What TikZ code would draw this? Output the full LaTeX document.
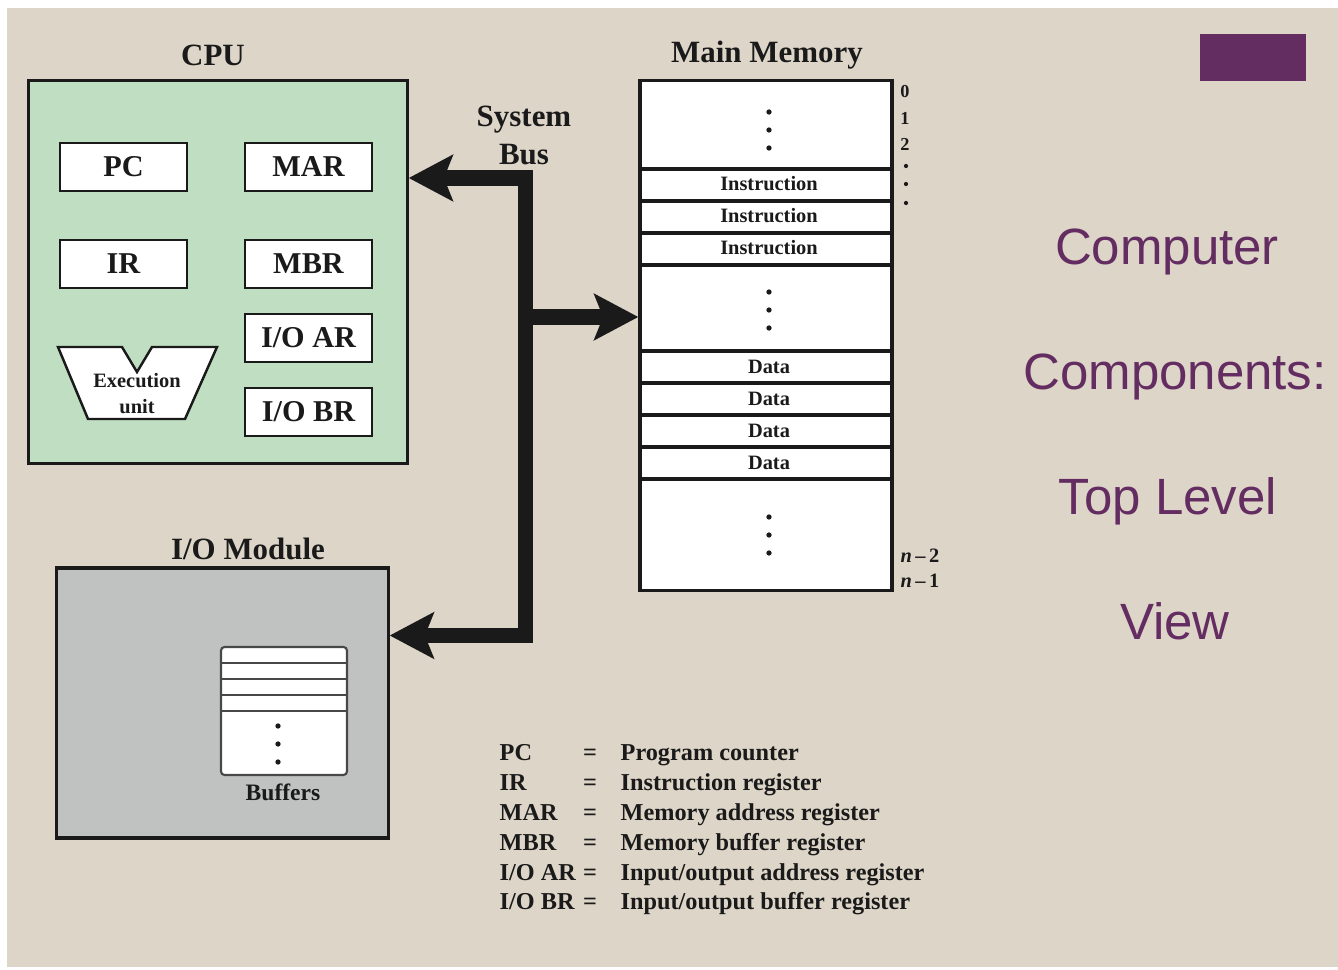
\documentclass[tikz,border=0pt]{standalone}
\usepackage{fontspec}
\setmainfont{Liberation Serif}
\newfontfamily\titlefont{Liberation Sans}
\usetikzlibrary{%
        arrows.meta,
        positioning
    }

\definecolor{paper}{HTML}{DDD5C8}
\definecolor{cpugreen}{HTML}{BFDEC2}
\definecolor{iogray}{HTML}{C0C1C1}
\definecolor{slidepurple}{HTML}{642D62}
\definecolor{ink}{HTML}{1A1A1A}

\tikzset{%
    heading/.style={font=\bfseries\fontsize{8.8}{10.8}\selectfont, text=ink,
        align=center, inner sep=0pt},
    register/.style={draw=ink, line width=0.6pt, fill=white,
        minimum width=1.27cm, minimum height=0.48cm, inner sep=0pt,
        font=\bfseries\fontsize{8.6}{10}\selectfont, text=ink},
    cell/.style={font=\bfseries\fontsize{5.8}{7}\selectfont, text=ink,
        inner sep=0pt, align=center},
    keytext/.style={font=\bfseries\fontsize{6.9}{8}\selectfont, text=ink,
        inner sep=0pt, anchor=base west},
    addr/.style={font=\bfseries\fontsize{5.2}{6}\selectfont, text=ink,
        inner sep=0pt},
    memline/.style={draw=ink, line width=0.9pt},
    bus/.style={draw=ink, line width=4.3pt, line join=miter,
        >={Stealth[length=12.5pt, width=13pt, inset=2.5pt]}},
    slidetitle/.style={font=\titlefont\fontsize{14.5}{17}\selectfont,
        text=slidepurple, anchor=base, inner sep=0pt}
}

\begin{document}
\begin{tikzpicture}[x=0.01cm, y=-0.01cm]

    \useasboundingbox (0, 0) rectangle (1338, 970);
    \fill[white] (0, 0) rectangle (1338, 970);
    \fill[paper] (7, 8) rectangle (1338, 967);

    % CPU
    \node[heading] (cpu-label) at (213, 55) {CPU};
    \node[draw=ink, line width=0.9pt, fill=cpugreen,
          minimum width=3.78cm, minimum height=3.82cm] (cpu) at (218, 272) {};

    \node[register] (pc)   at (123.5, 167) {PC};
    \node[register] (mar)  at (308.5, 167) {MAR};
    \node[register] (ir)   at (123.5, 264) {IR};
    \node[register] (mbr)  at (308.5, 264) {MBR};
    \node[register] (ioar) at (308.5, 338) {I/O AR};
    \node[register] (iobr) at (308.5, 412) {I/O BR};

    \draw[draw=ink, line width=0.7pt, fill=white]
        (58, 347) -- (122, 347) -- (137, 372) -- (152, 347) --
        (217, 347) -- (185, 419) -- (88, 419) -- cycle;
    \node[cell, font=\bfseries\fontsize{5.8}{7.4}\selectfont] (exec) at (137, 394)
        {Execution\\unit};

    % I/O module
    \node[heading] (io-label) at (248, 549) {I/O Module};
    \node[draw=ink, line width=0.9pt, fill=iogray,
          minimum width=3.31cm, minimum height=2.70cm] (io) at (222.5, 703) {};

    \draw[draw=ink!80, line width=0.6pt, fill=white, rounded corners=1pt]
        (221, 647) rectangle (347, 775);
    \foreach \y in {663, 679, 695, 711}{%
        \draw[draw=ink!80, line width=0.6pt] (221, \y) -- (347, \y);
    };
    \foreach \y in {726, 744, 762}{%
        \fill[ink] (278, \y) circle (0.75pt);
    };
    \node[cell, font=\bfseries\fontsize{6.7}{8}\selectfont] (buffers) at (283, 792)
        {Buffers};

    % Main memory
    \node[heading] (mem-label) at (767, 55) {Main Memory};
    \node[draw=ink, line width=0.9pt, fill=white,
          minimum width=2.52cm, minimum height=5.09cm] (mem) at (766, 335.5) {};

    \foreach \y in {169, 201, 233, 265, 351, 383, 415, 447, 479}{%
        \draw[memline] (mem.west |- 0, \y) -- (mem.east |- 0, \y);
    };
    \foreach \i/\y in {1/184, 2/216, 3/248}{%
        \node[cell] (instr-\i) at (769, \y) {Instruction};
    };
    \foreach \i/\y in {1/367, 2/399, 3/431, 4/463}{%
        \node[cell] (data-\i) at (769, \y) {Data};
    };
    \foreach \y in {112, 130, 148, 292, 310, 328, 517, 535, 553}{%
        \fill[ink] (769, \y) circle (0.75pt);
    };

    % Addresses
    \node[addr] (addr-0) at (905, 92) {0};
    \node[addr] (addr-1) at (905, 118) {1};
    \node[addr] (addr-2) at (905, 144) {2};
    \foreach \y in {166, 184, 203}{%
        \fill[ink] (906, \y) circle (0.6pt);
    };
    \node[addr, anchor=west, font=\bfseries\fontsize{5.8}{7}\selectfont]
        (addr-n2) at (900, 556) {\textit{n}\,–\,2};
    \node[addr, anchor=west, font=\bfseries\fontsize{5.8}{7}\selectfont]
        (addr-n1) at (900, 581) {\textit{n}\,–\,1};

    % System bus
    \node[heading] (bus-label) at (524, 135) {System\\Bus};
    \coordinate (bus-top) at (525.5, 178);
    \coordinate (bus-mid) at (525.5, 317);
    \coordinate (bus-bot) at (525.5, 635.5);

    \draw[bus, <->]
        (bus-top -| cpu.east) -- (bus-top) -- (bus-bot) -- (bus-bot -| io.east);
    \draw[bus, ->] (bus-mid) -- (bus-mid -| mem.west);

    % Key
    \foreach \i/\abbr/\desc in {%
            0/PC/Program counter,
            1/IR/Instruction register,
            2/MAR/Memory address register,
            3/MBR/Memory buffer register,
            4/{I/O AR}/{Input/output address register},
            5/{I/O BR}/{Input/output buffer register}}{%
        \node[keytext] (key-\i) at (499, {761 + 29.8*\i}) {\abbr};
        \node[keytext, anchor=base] (eq-\i) at (590, {761 + 29.8*\i}) {=};
        \node[keytext] (desc-\i) at (620, {761 + 29.8*\i}) {\desc};
    };

    % Slide title
    \fill[slidepurple] (1200, 34) rectangle (1306, 81);
    \node[slidetitle] (title-1) at (1167, 265) {Computer};
    \node[slidetitle] (title-2) at (1175, 390) {Components:};
    \node[slidetitle] (title-3) at (1168, 515) {Top Level};
    \node[slidetitle] (title-4) at (1175, 640) {View};

\end{tikzpicture}
\end{document}
